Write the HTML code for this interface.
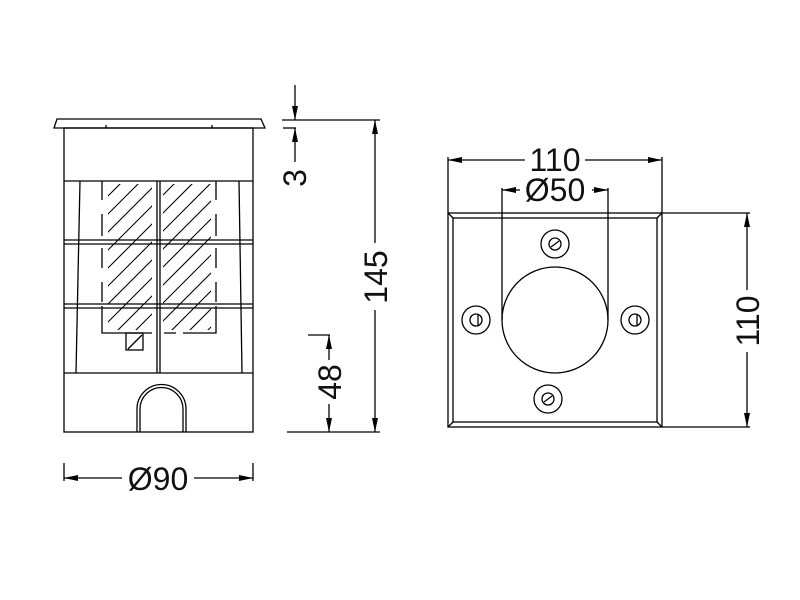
<!DOCTYPE html>
<html><head><meta charset="utf-8"><style>html,body{margin:0;padding:0;background:#fff}svg{display:block}</style></head><body>
<svg width="800" height="600" viewBox="0 0 800 600" xmlns="http://www.w3.org/2000/svg">
<defs>
<marker id="a" markerWidth="14" markerHeight="6" refX="14" refY="3" orient="auto" markerUnits="userSpaceOnUse"><path d="M0,0 L14,3 L0,6 z" fill="#000"/></marker>
<clipPath id="c1"><rect x="108" y="184" width="44" height="146"/></clipPath>
<clipPath id="c2"><rect x="163" y="184" width="48" height="146"/></clipPath>
</defs>
<g fill="none" stroke="#000" stroke-width="1.3">
<path d="M57,119 L261,119 L265,128 L54,128 Z"/>
<line x1="106" y1="125" x2="106" y2="128"/><line x1="212" y1="125" x2="212" y2="128"/>
<rect x="64" y="128" width="189" height="304"/>
<line x1="64" y1="181" x2="253" y2="181"/>
<line x1="64" y1="240" x2="253" y2="240"/><line x1="64" y1="244" x2="253" y2="244"/>
<line x1="64" y1="304" x2="253" y2="304"/><line x1="64" y1="308" x2="253" y2="308"/>
<line x1="64" y1="373" x2="253" y2="373"/>
<line x1="157" y1="181" x2="157" y2="373"/><line x1="160" y1="181" x2="160" y2="373"/>
<line x1="80" y1="181" x2="76" y2="373"/><line x1="239" y1="181" x2="242" y2="373"/>
<path d="M102,181 V200 M102,214 V236 M102,248 V268 M102,282 V302 M102,306 V333 H152 M164,333 H176 M183,333 H216 V306 M216,302 V282 M216,268 V248 M216,236 V214 M216,200 V181"/>
<rect x="126" y="333" width="17" height="17"/>
<line x1="128" y1="349" x2="142" y2="335"/>
<g clip-path="url(#c1)" stroke-width="1.1">
<line x1="50" y1="380" x2="250" y2="180"/><line x1="50" y1="362" x2="250" y2="162"/><line x1="50" y1="344" x2="250" y2="144"/><line x1="50" y1="326" x2="250" y2="126"/><line x1="50" y1="308" x2="250" y2="108"/><line x1="50" y1="290" x2="250" y2="90"/><line x1="50" y1="272" x2="250" y2="72"/><line x1="50" y1="254" x2="250" y2="54"/><line x1="50" y1="398" x2="250" y2="198"/><line x1="50" y1="416" x2="250" y2="216"/><line x1="50" y1="434" x2="250" y2="234"/><line x1="50" y1="452" x2="250" y2="252"/>
</g>
<g clip-path="url(#c2)" stroke-width="1.1">
<line x1="50" y1="380" x2="250" y2="180"/><line x1="50" y1="362" x2="250" y2="162"/><line x1="50" y1="344" x2="250" y2="144"/><line x1="50" y1="326" x2="250" y2="126"/><line x1="50" y1="308" x2="250" y2="108"/><line x1="50" y1="290" x2="250" y2="90"/><line x1="50" y1="272" x2="250" y2="72"/><line x1="50" y1="398" x2="250" y2="198"/><line x1="50" y1="416" x2="250" y2="216"/><line x1="50" y1="434" x2="250" y2="234"/><line x1="50" y1="452" x2="250" y2="252"/><line x1="50" y1="470" x2="250" y2="270"/><line x1="50" y1="488" x2="250" y2="288"/>
</g>
<path d="M137,432 V409 A24.5,24.5 0 0 1 186,409 V432"/>
<path d="M140,432 V409 A21.5,21.5 0 0 1 183,409 V432"/>
<line x1="282" y1="120" x2="380" y2="120"/>
<line x1="283" y1="128" x2="296" y2="128"/>
<line x1="287" y1="432" x2="380" y2="432"/>
<line x1="308" y1="335" x2="330" y2="335"/>
<line x1="295" y1="85" x2="295" y2="120" marker-end="url(#a)"/>
<line x1="295" y1="162" x2="295" y2="128" marker-end="url(#a)"/>
<line x1="375" y1="243" x2="375" y2="120" marker-end="url(#a)"/>
<line x1="375" y1="310" x2="375" y2="432" marker-end="url(#a)"/>
<line x1="329" y1="360" x2="329" y2="335" marker-end="url(#a)"/>
<line x1="329" y1="404" x2="329" y2="432" marker-end="url(#a)"/>
<line x1="64" y1="463" x2="64" y2="481"/><line x1="253" y1="463" x2="253" y2="481"/>
<line x1="122" y1="478" x2="64" y2="478" marker-end="url(#a)"/>
<line x1="194" y1="478" x2="253" y2="478" marker-end="url(#a)"/>
<rect x="448" y="213" width="214" height="214"/>
<rect x="453" y="218" width="204" height="204"/>
<line x1="448" y1="213" x2="453" y2="218"/><line x1="662" y1="213" x2="657" y2="218"/>
<line x1="448" y1="427" x2="453" y2="422"/><line x1="662" y1="427" x2="657" y2="422"/>
<circle cx="555" cy="320" r="53"/>
<circle cx="555" cy="244" r="14"/><circle cx="555" cy="244" r="6"/><line x1="551" y1="247" x2="559" y2="241"/>
<circle cx="548" cy="399" r="14"/><circle cx="548" cy="399" r="6"/><line x1="544" y1="402" x2="552" y2="396"/>
<circle cx="476" cy="320" r="14"/><circle cx="476" cy="320" r="6"/><line x1="478" y1="315" x2="478" y2="325"/>
<circle cx="635" cy="320" r="14"/><circle cx="635" cy="320" r="6"/><line x1="637" y1="315" x2="637" y2="325"/>
<line x1="448" y1="157" x2="448" y2="213"/><line x1="662" y1="157" x2="662" y2="213"/>
<line x1="525" y1="160" x2="448" y2="160" marker-end="url(#a)"/>
<line x1="585" y1="160" x2="662" y2="160" marker-end="url(#a)"/>
<line x1="502" y1="188" x2="502" y2="320"/><line x1="608" y1="188" x2="608" y2="320"/>
<line x1="520" y1="190" x2="502" y2="190" marker-end="url(#a)"/>
<line x1="592" y1="190" x2="608" y2="190" marker-end="url(#a)"/>
<line x1="662" y1="213" x2="750" y2="213"/><line x1="662" y1="427" x2="750" y2="427"/>
<line x1="747" y1="290" x2="747" y2="213" marker-end="url(#a)"/>
<line x1="747" y1="352" x2="747" y2="427" marker-end="url(#a)"/>
</g>
<g font-family="Liberation Sans, sans-serif" font-size="32" fill="#111" text-anchor="middle">
<text x="0" y="0" transform="translate(306,178) rotate(-90)">3</text>
<text x="0" y="0" transform="translate(387,277) rotate(-90)">145</text>
<text x="0" y="0" transform="translate(341,382) rotate(-90)">48</text>
<text x="158" y="490">Ø90</text>
<text x="555" y="171">110</text>
<text x="555" y="201">Ø50</text>
<text x="0" y="0" transform="translate(759,321) rotate(-90)">110</text>
</g>
</svg>
</body></html>
